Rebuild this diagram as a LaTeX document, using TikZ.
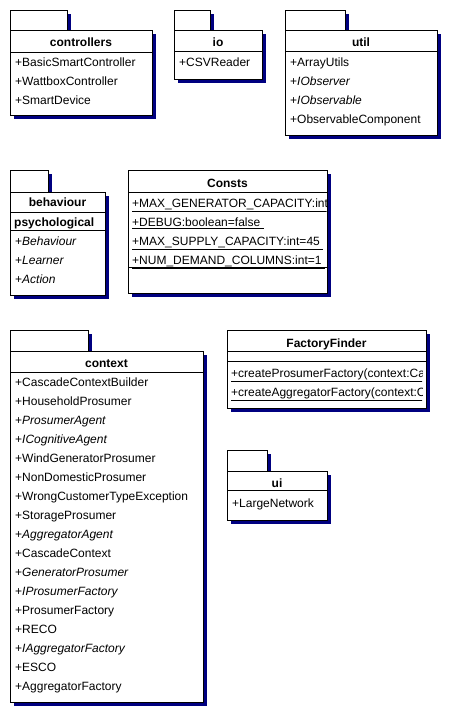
\documentclass[tikz,border=0pt]{standalone}
\usepackage{fontspec}
\setmainfont{Liberation Sans}
\usepackage{xcolor}
\usepackage{tikz}
\definecolor{umlnavy}{RGB}{0,0,128}

\begin{document}
\begin{tikzpicture}[x=1pt,y=-1pt,font=\fontsize{12}{14}\selectfont,
  box/.style={draw,fill=white,line width=1pt,preaction={fill=umlnavy,transform canvas={shift={(3.5pt,-3.5pt)}}}},
  sep/.style={line width=1pt},
  title/.style={anchor=base,inner sep=0pt,font=\fontsize{12}{14}\selectfont\bfseries},
  item/.style={anchor=base west,inner sep=0pt}]
\useasboundingbox (0,0) rectangle (449,716);

\draw[box] (10,10) rectangle (67,30);
\draw[box] (10,30) rectangle (152,115);
\draw[sep] (10,52) -- (152,52);
\node[title] at (81,46.5) (controllers) {controllers};
\node[item] at (15,66.5) (BasicSmartController) {+BasicSmartController};
\node[item] at (15,85.5) (WattboxController) {+WattboxController};
\node[item] at (15,104.5) (SmartDevice) {+SmartDevice};

\draw[box] (174,10) rectangle (210,30);
\draw[box] (174,30) rectangle (262,79);
\draw[sep] (174,51) -- (262,51);
\node[title] at (218,46.5) (io) {io};
\node[item] at (179,66.5) (CSVReader) {+CSVReader};

\draw[box] (285,10) rectangle (345,30);
\draw[box] (285,30) rectangle (437,135);
\draw[sep] (285,51) -- (437,51);
\node[title] at (361,46.5) (util) {util};
\node[item] at (290,66.5) (ArrayUtils) {+ArrayUtils};
\node[item] at (290,85.5) (IObserver) {+\textit{IObserver}};
\node[item] at (290,104.5) (IObservable) {+\textit{IObservable}};
\node[item] at (290,123.5) (ObservableComponent) {+ObservableComponent};

\draw[box] (10,170) rectangle (48,192);
\draw[box] (10,192) rectangle (105,295);
\draw[sep] (10,212) -- (105,212);
\draw[sep] (10,230) -- (105,230);
\node[title] at (57.5,206.5) (behaviour) {behaviour};
\node[item,font=\fontsize{12}{14}\selectfont\bfseries] at (14,226.5) (psychological) {psychological};
\node[item] at (15,245.5) (Behaviour) {+\textit{Behaviour}};
\node[item] at (15,264.5) (Learner) {+\textit{Learner}};
\node[item] at (15,283.5) (Action) {+\textit{Action}};

\draw[box] (128,170) rectangle (327,293);
\draw[sep] (128,192) -- (327,192);
\draw[sep] (128,267) -- (327,267);
\node[title] at (227.5,187) (Consts) {Consts};
\begin{scope}
\clip (128,170) rectangle (326.5,293);
\node[item] at (132,207.5) (MaxGen) {\underline{+MAX\_GENERATOR\_CAPACITY:int}};
\node[item] at (132,226.5) (Debug) {\underline{+DEBUG:boolean=false\ }};
\node[item] at (132,245.5) (MaxSupply) {\underline{+MAX\_SUPPLY\_CAPACITY:int=45\ }};
\node[item] at (132,264.5) (NumDemand) {\underline{+NUM\_DEMAND\_COLUMNS:int=1\ }};
\end{scope}

\draw[box] (10,330) rectangle (88,351);
\draw[box] (10,351) rectangle (203,702);
\draw[sep] (10,372) -- (203,372);
\node[title] at (106.5,367.5) (context) {context};
\node[item] at (15,386.5) (CascadeContextBuilder) {+CascadeContextBuilder};
\node[item] at (15,405.5) (HouseholdProsumer) {+HouseholdProsumer};
\node[item] at (15,424.5) (ProsumerAgent) {+\textit{ProsumerAgent}};
\node[item] at (15,443.5) (ICognitiveAgent) {+\textit{ICognitiveAgent}};
\node[item] at (15,462.5) (WindGeneratorProsumer) {+WindGeneratorProsumer};
\node[item] at (15,481.5) (NonDomesticProsumer) {+NonDomesticProsumer};
\node[item] at (15,500.5) (WrongCustomerTypeException) {+WrongCustomerTypeException};
\node[item] at (15,519.5) (StorageProsumer) {+StorageProsumer};
\node[item] at (15,538.5) (AggregatorAgent) {+\textit{AggregatorAgent}};
\node[item] at (15,557.5) (CascadeContext) {+CascadeContext};
\node[item] at (15,576.5) (GeneratorProsumer) {+\textit{GeneratorProsumer}};
\node[item] at (15,595.5) (IProsumerFactory) {+\textit{IProsumerFactory}};
\node[item] at (15,614.5) (ProsumerFactory) {+ProsumerFactory};
\node[item] at (15,633.5) (RECO) {+RECO};
\node[item] at (15,652.5) (IAggregatorFactory) {+\textit{IAggregatorFactory}};
\node[item] at (15,671.5) (ESCO) {+ESCO};
\node[item] at (15,690.5) (AggregatorFactory) {+AggregatorFactory};

\draw[box] (227,330) rectangle (426,408);
\draw[sep] (227,351) -- (426,351);
\draw[sep] (227,361) -- (426,361);
\node[title] at (326.5,347.5) (FactoryFinder) {FactoryFinder};
\begin{scope}
\clip (227,330) rectangle (422,408);
\node[item] at (231,377.5) (createProsumer) {\underline{+createProsumerFactory(context:CascadeContext)}};
\node[item] at (231,396.5) (createAggregator) {\underline{+createAggregatorFactory(context:CascadeContext)}};
\end{scope}

\draw[box] (227,450) rectangle (267,471);
\draw[box] (227,471) rectangle (327,520);
\draw[sep] (227,490) -- (327,490);
\node[title] at (277,487.5) (ui) {ui};
\node[item] at (232,507.5) (LargeNetwork) {+LargeNetwork};
\end{tikzpicture}
\end{document}
